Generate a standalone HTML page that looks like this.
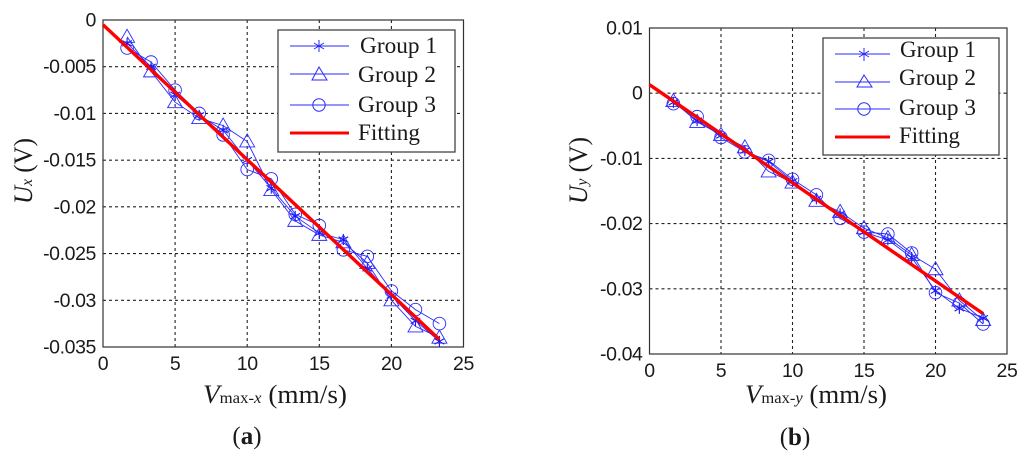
<!DOCTYPE html>
<html lang="en">
<head>
<meta charset="utf-8">
<title>Fitting charts</title>
<style>
html,body{margin:0;padding:0;background:#fff;width:1024px;height:457px;overflow:hidden}
svg{display:block}
.tick{font-family:"Liberation Sans",sans-serif;font-size:19.5px;letter-spacing:-0.4px;fill:#1a1a1a}
.serif{font-family:"Liberation Serif",serif;fill:#1a1a1a}
.legend-text{font-size:23px}
.title{font-size:26px}
</style>
</head>
<body>
<svg id="figure" xmlns="http://www.w3.org/2000/svg" width="1024" height="457" viewBox="0 0 1024 457">
  <g id="panel-a"></g>
  <g id="panel-b"></g>

  <g>
    <rect x="278" y="30" width="177" height="122" fill="#fff" stroke="#444" stroke-width="1.3"/>
    <g>
      <line x1="290" x2="349" y1="46" y2="46" stroke="#2a2aff" stroke-width="1.1"/>
      <path d="M319 40V52M314 43L324 49M314 49L324 43" stroke="#2a2aff" fill="none"/>
      <text class="serif legend-text" x="360" y="53" textLength="77" lengthAdjust="spacingAndGlyphs">Group 1</text>
    </g>
    <g>
      <line x1="290" x2="349" y1="74" y2="74" stroke="#2a2aff" stroke-width="1.1"/>
      <path d="M319 67L327 80H312Z" stroke="#2a2aff" fill="none"/>
      <text class="serif legend-text" x="358" y="82" textLength="78" lengthAdjust="spacingAndGlyphs">Group 2</text>
    </g>
    <g>
      <line x1="290" x2="349" y1="105" y2="105" stroke="#2a2aff" stroke-width="1.1"/>
      <circle cx="319" cy="105" r="6.2" stroke="#2a2aff" fill="none"/>
      <text class="serif legend-text" x="358" y="112" textLength="78" lengthAdjust="spacingAndGlyphs">Group 3</text>
    </g>
    <g>
      <line x1="290" x2="349" y1="133" y2="133" stroke="#f00" stroke-width="3"/>
      <text class="serif legend-text" x="358" y="140" textLength="62" lengthAdjust="spacingAndGlyphs">Fitting</text>
    </g>
  </g>

  <g>
    <rect x="823" y="38" width="176" height="117" fill="#fff" stroke="#444" stroke-width="1.3"/>
    <g>
      <line x1="835" x2="890" y1="54" y2="54" stroke="#2a2aff" stroke-width="1.1"/>
      <path d="M864 48V61M859 51L869 57M859 57L869 51" stroke="#2a2aff" fill="none"/>
      <text class="serif legend-text" x="900" y="57" textLength="76" lengthAdjust="spacingAndGlyphs">Group 1</text>
    </g>
    <g>
      <line x1="835" x2="890" y1="82" y2="82" stroke="#2a2aff" stroke-width="1.1"/>
      <path d="M864 75L872 87H857Z" stroke="#2a2aff" fill="none"/>
      <text class="serif legend-text" x="899" y="85" textLength="77" lengthAdjust="spacingAndGlyphs">Group 2</text>
    </g>
    <g>
      <line x1="835" x2="890" y1="109" y2="109" stroke="#2a2aff" stroke-width="1.1"/>
      <circle cx="864" cy="109" r="6.2" stroke="#2a2aff" fill="none"/>
      <text class="serif legend-text" x="899" y="115" textLength="77" lengthAdjust="spacingAndGlyphs">Group 3</text>
    </g>
    <g>
      <line x1="835" x2="890" y1="137" y2="137" stroke="#f00" stroke-width="3"/>
      <text class="serif legend-text" x="899" y="143" textLength="61" lengthAdjust="spacingAndGlyphs">Fitting</text>
    </g>
  </g>

  <text class="serif title" transform="translate(32,204) rotate(-90)" textLength="66" lengthAdjust="spacingAndGlyphs"><tspan font-style="italic">U</tspan><tspan font-style="italic" font-size="16">x</tspan> (V)</text>
  <text class="serif title" transform="translate(587,204) rotate(-90)" textLength="67" lengthAdjust="spacingAndGlyphs"><tspan font-style="italic">U</tspan><tspan font-style="italic" font-size="16">y</tspan> (V)</text>
  <text class="serif title" x="203" y="403" textLength="144" lengthAdjust="spacingAndGlyphs"><tspan font-style="italic">V</tspan><tspan font-size="16">max-</tspan><tspan font-size="16" font-style="italic">x</tspan> (mm/s)</text>
  <text class="serif title" x="745" y="403" textLength="142" lengthAdjust="spacingAndGlyphs"><tspan font-style="italic">V</tspan><tspan font-size="16">max-</tspan><tspan font-size="16" font-style="italic">y</tspan> (mm/s)</text>
  <text class="serif" font-size="25" x="247" y="444" text-anchor="middle">(<tspan font-weight="bold">a</tspan>)</text>
  <text class="serif" font-size="25" x="795" y="445" text-anchor="middle">(<tspan font-weight="bold">b</tspan>)</text>
</svg>

<script>
const speedValues = [1.67, 3.33, 5, 6.67, 8.33, 10, 11.67, 13.33, 15, 16.67, 18.33, 20, 21.67, 23.33];
const xTickLabels = ["0", "5", "10", "15", "20", "25"];

const panelAGroup1 = [-0.0025, -0.0050, -0.0080, -0.0102, -0.0118, -0.0150, -0.0180, -0.0210, -0.0228, -0.0235, -0.0266, -0.0295, -0.0322, -0.0344];
const panelAGroup2 = [-0.0018, -0.0055, -0.0088, -0.0105, -0.0113, -0.0130, -0.0182, -0.0215, -0.0230, -0.0238, -0.0260, -0.0300, -0.0328, -0.0340];
const panelAGroup3 = [-0.0030, -0.0045, -0.0075, -0.0100, -0.0123, -0.0160, -0.0170, -0.0208, -0.0220, -0.0246, -0.0253, -0.0290, -0.0310, -0.0325];
const panelAFitSpeed = [0, 23.33];
const panelAFitValues = [-0.0005, -0.0342];
const panelAYTicks = ["0", "-0.005", "-0.01", "-0.015", "-0.02", "-0.025", "-0.03", "-0.035"];

const panelBGroup1 = [-0.0014, -0.0042, -0.0065, -0.0088, -0.0105, -0.0135, -0.0162, -0.0185, -0.0213, -0.0225, -0.0252, -0.0303, -0.0330, -0.0345];
const panelBGroup2 = [-0.0012, -0.0044, -0.0064, -0.0083, -0.0120, -0.0137, -0.0165, -0.0182, -0.0207, -0.0222, -0.0248, -0.0270, -0.0318, -0.0348];
const panelBGroup3 = [-0.0016, -0.0036, -0.0068, -0.0090, -0.0103, -0.0132, -0.0156, -0.0192, -0.0213, -0.0216, -0.0245, -0.0306, -0.0322, -0.0354];
const panelBFitSpeed = [0, 23.33];
const panelBFitValues = [0.0013, -0.0338];
const panelBYTicks = ["0.01", "0", "-0.01", "-0.02", "-0.03", "-0.04"];

const NS = "http://www.w3.org/2000/svg";
const BLUE = "#2a2aff";

function make(tag, attrs, parent) {
  const el = document.createElementNS(NS, tag);
  for (const k in attrs) el.setAttribute(k, attrs[k]);
  parent.appendChild(el);
  return el;
}

function drawMarker(kind, px, py, parent) {
  if (kind === "star") {
    const star = make("path", {
      d: `M${px} ${py - 5.5}V${py + 5.5}M${px - 4.8} ${py - 2.8}L${px + 4.8} ${py + 2.8}M${px - 4.8} ${py + 2.8}L${px + 4.8} ${py - 2.8}`,
      fill: "none", stroke: "#1414ee", "stroke-width": 1.1
    }, parent);
    
    
  } else if (kind === "triangle") {
    const tri = make("path", {
      d: `M${px} ${py - 7.5}L${px + 7.5} ${py + 5.5}H${px - 7.5}Z`,
      fill: "none", stroke: BLUE, "stroke-width": 0.9
    }, parent);
    
    
  } else {
    const circ = make("circle", {
      cx: px, cy: py, r: 6.3, fill: "none", stroke: BLUE, "stroke-width": 0.9
    }, parent);
    
    
  }
}

function drawPanel(cfg) {
  const g = document.getElementById(cfg.id);
  const xScale = v => cfg.left + (v - 0) / 25 * (cfg.right - cfg.left);
  const yScale = v => cfg.top + (cfg.yMax - v) / (cfg.yMax - cfg.yMin) * (cfg.bottom - cfg.top);

  xTickLabels.forEach(label => {
    const px = xScale(Number(label));
    if (Number(label) > 0 && Number(label) < 25) {
      const grid = make("line", { x1: px, x2: px, y1: cfg.top, y2: cfg.bottom, stroke: "#222", "stroke-width": 1.1, "stroke-dasharray": "3 3" }, g);
      
      
    }
    const t = make("text", { class: "tick", x: px, y: cfg.bottom + 23, "text-anchor": "middle" }, g);
    
    
    t.textContent = label;
  });

  cfg.yTicks.forEach(label => {
    const py = yScale(Number(label));
    if (Number(label) < cfg.yMax && Number(label) > cfg.yMin) {
      const grid = make("line", { x1: cfg.left, x2: cfg.right, y1: py, y2: py, stroke: "#222", "stroke-width": 1.1, "stroke-dasharray": "3 3" }, g);
      
      
    }
    const t = make("text", { class: "tick", x: cfg.left - 7, y: py + 6.5, "text-anchor": "end" }, g);
    
    
    t.textContent = label;
  });

  const frame = make("rect", { x: cfg.left, y: cfg.top, width: cfg.right - cfg.left, height: cfg.bottom - cfg.top, fill: "none", stroke: "#333", "stroke-width": 1.2 }, g);
  
  

  cfg.series.forEach(s => {
    const sg = make("g", {}, g);
    
    
    const pts = s.values.map((v, i) => xScale(speedValues[i]).toFixed(1) + "," + yScale(v).toFixed(1)).join(" ");
    const line = make("polyline", { points: pts, fill: "none", stroke: BLUE, "stroke-width": 0.9 }, sg);
    
    
    s.values.forEach((v, i) => drawMarker(s.marker, xScale(speedValues[i]), yScale(v), sg));
  });

  const fitPts = cfg.fitValues.map((v, i) => xScale(cfg.fitSpeed[i]).toFixed(1) + "," + yScale(v).toFixed(1)).join(" ");
  const fit = make("polyline", { points: fitPts, fill: "none", stroke: "#f00", "stroke-width": 3.4 }, g);
  
  
}

drawPanel({
  id: "panel-a", left: 103, right: 463.5, top: 20, bottom: 347,
  yMax: 0, yMin: -0.035, yTicks: panelAYTicks,
  fitSpeed: panelAFitSpeed, fitValues: panelAFitValues,
  series: [
    { name: "series-a-group-1", marker: "star", values: panelAGroup1 },
    { name: "series-a-group-2", marker: "triangle", values: panelAGroup2 },
    { name: "series-a-group-3", marker: "circle", values: panelAGroup3 }
  ]
});

drawPanel({
  id: "panel-b", left: 649.5, right: 1007, top: 28, bottom: 354,
  yMax: 0.01, yMin: -0.04, yTicks: panelBYTicks,
  fitSpeed: panelBFitSpeed, fitValues: panelBFitValues,
  series: [
    { name: "series-b-group-1", marker: "star", values: panelBGroup1 },
    { name: "series-b-group-2", marker: "triangle", values: panelBGroup2 },
    { name: "series-b-group-3", marker: "circle", values: panelBGroup3 }
  ]
});
</script>
</body>
</html>
